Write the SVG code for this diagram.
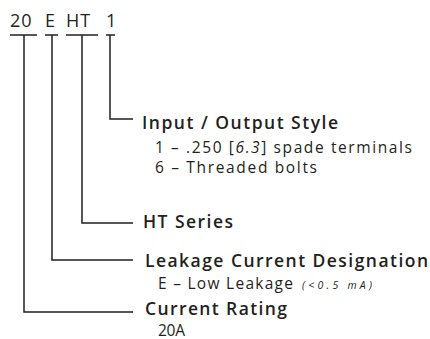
<svg xmlns="http://www.w3.org/2000/svg" width="430" height="339" viewBox="0 0 430 339">
<style>
.t{font-family:"Open Sans","Liberation Sans",sans-serif;fill:#231f20}
.h{font-size:17.5px;font-weight:600}
.r{font-size:15.5px}
.s{font-size:10.5px;font-style:italic}
.ln{stroke:#231f20;stroke-width:1.5;fill:none}
</style>
<rect width="430" height="339" fill="#fff"/>
<g id="code">
<text class="t" y="27" font-size="18"><tspan x="10" letter-spacing="1">20</tspan><tspan x="45">E</tspan><tspan x="66" letter-spacing="1">HT</tspan><tspan x="106">1</tspan></text>
</g>
<g id="connectors" class="ln">
<path d="M10 35H37M24 35V312H133"/>
<path d="M45 35H58M52 35V260H133"/>
<path d="M66 35H98M82 35V223H133"/>
<path d="M106 35H115M110 35V119H133"/>
</g>
<g id="io">
<text class="t h" x="142" y="129" textLength="196" lengthAdjust="spacing">Input / Output Style</text>
<text class="t r" x="155" y="153" textLength="257" lengthAdjust="spacing">1 – .250 [<tspan font-style="italic">6.3</tspan>] spade terminals</text>
<text class="t r" x="155" y="173" textLength="162" lengthAdjust="spacing">6 – Threaded bolts</text>
</g>
<g id="ht">
<text class="t h" x="143" y="228" textLength="90" lengthAdjust="spacing">HT Series</text>
</g>
<g id="leak">
<text class="t h" x="145" y="267" textLength="283" lengthAdjust="spacing">Leakage Current Designation</text>
<text class="t r" x="158" y="289" textLength="135" lengthAdjust="spacing">E – Low Leakage</text>
<text class="t s" x="302" y="289" textLength="70" lengthAdjust="spacing">(&lt;0.5 mA)</text>
</g>
<g id="rating">
<text class="t h" x="145" y="315" textLength="142" lengthAdjust="spacing">Current Rating</text>
<text class="t r" x="158" y="335.5" font-size="13.5" textLength="27" lengthAdjust="spacing">20A</text>
</g>
</svg>
